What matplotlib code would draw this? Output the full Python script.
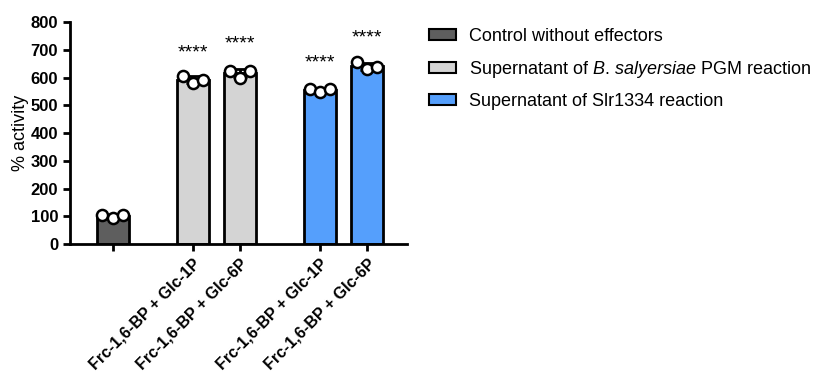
import matplotlib.pyplot as plt
import numpy as np
from matplotlib.patches import Patch

plt.rcParams['font.family'] = ['Liberation Sans', 'DejaVu Sans']
plt.rcParams['mathtext.fontset'] = 'custom'
plt.rcParams['mathtext.rm'] = 'Liberation Sans'
plt.rcParams['mathtext.it'] = 'Liberation Sans:italic'

# data
categories = ['', 'Frc-1,6-BP + Glc-1P', 'Frc-1,6-BP + Glc-6P',
              'Frc-1,6-BP + Glc-1P', 'Frc-1,6-BP + Glc-6P']
groups = [0, 1, 1, 2, 2]
replicates = [
    [103, 95, 103],
    [605, 580, 590],
    [625, 600, 625],
    [560, 548, 558],
    [655, 630, 638],
]
stars = ['', '****', '****', '****', '****']
star_y = [0, 688, 720, 652, 742]
group_names = ['Control without effectors',
               'Supernatant of $\\it{B.\\,salyersiae}$ PGM reaction',
               'Supernatant of Slr1334 reaction']
group_colors = ['#5e5e5e', '#d4d4d4', '#559ffc']

positions = [0, 1.7, 2.7, 4.4, 5.4]
jitter = [-0.22, 0.0, 0.22]

fig = plt.figure(figsize=(8.18, 3.74), dpi=100)
ax = fig.add_axes([0.0856, 0.3476, 0.412, 0.5934])

for i, vals in enumerate(replicates):
    vals = np.array(vals, dtype=float)
    m = vals.mean()
    sd = vals.std(ddof=1)
    ax.bar(positions[i], m, width=0.68, color=group_colors[groups[i]],
           edgecolor='black', linewidth=2, zorder=2)
    ax.errorbar(positions[i], m, yerr=sd, fmt='none', ecolor='black',
                elinewidth=2, capsize=5, capthick=2, zorder=3)
    ax.plot(np.array(jitter) + positions[i], vals, 'o', ms=8,
            mfc='white', mec='black', mew=1.8, zorder=4)
    if stars[i]:
        ax.text(positions[i], star_y[i], stars[i], ha='center', va='center',
                fontsize=14)

ax.set_xlim(-0.91, 6.25)
ax.set_ylim(0, 800)
ax.set_yticks(range(0, 801, 100))
ax.set_xticks(positions)
ax.set_xticklabels(categories, rotation=45, ha='right', rotation_mode='anchor',
                   fontsize=11.5, fontweight='bold')
for lab in ax.get_yticklabels():
    lab.set_fontweight('bold')
    lab.set_fontsize(12)
ax.set_ylabel('% activity', fontsize=13, labelpad=1)

for s in ['top', 'right']:
    ax.spines[s].set_visible(False)
for s in ['left', 'bottom']:
    ax.spines[s].set_linewidth(2)
ax.tick_params(width=2, length=5)

handles = [Patch(facecolor=c, edgecolor='black', linewidth=1.5)
           for c in group_colors]
fig.legend(handles, group_names, loc='upper left',
           bbox_to_anchor=(0.504, 0.968), frameon=False, fontsize=13,
           handlelength=1.5, handleheight=0.55, labelspacing=0.75,
           handletextpad=0.72)

fig.savefig('out.png', dpi=100)
